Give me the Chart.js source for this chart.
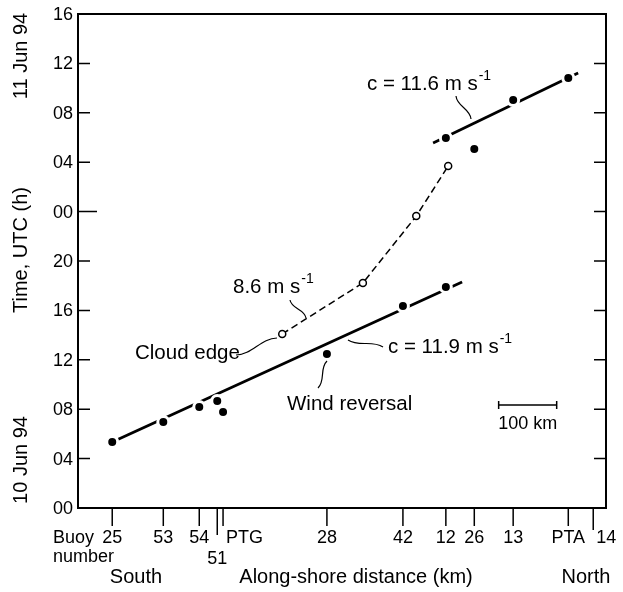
<!DOCTYPE html>
<html>
<head>
<meta charset="utf-8">
<script src="https://cdn.jsdelivr.net/npm/chart.js@4"></script>
<style>
  html, body { margin: 0; background: #fff; }
  canvas { display: block; }
</style>
</head>
<body>
<canvas id="arrival-chart" width="623" height="592"></canvas>
<script>
// buoy stations, south to north (km along shore from the plot's left edge)
const BUOY_NAMES = ["25", "53", "54", "51", "PTG", "28", "42", "12", "26", "13", "PTA", "14"];
const BUOY_KM = [59, 147, 209, 240, 250, 429, 560, 634, 683, 750, 845, 888];

// arrival times, hours after 00 UTC 10 Jun 94
const WIND_KM = [59, 147, 209, 240, 250, 429, 560, 634, 634, 683, 750, 845];
const WIND_H = [5.34, 6.96, 8.18, 8.66, 7.77, 12.47, 16.36, 17.89, 29.96, 29.07, 33.04, 34.82];
const CLOUD_KM = [352, 491, 583, 638];
const CLOUD_H = [14.09, 18.22, 23.64, 27.69];

// fitted propagation lines (end points)
const FIT_SOUTH_KM = [59, 662];
const FIT_SOUTH_H = [5.34, 18.3];
const FIT_NORTH_KM = [612, 862];
const FIT_NORTH_H = [29.55, 35.22];

const TIME_TICKS = [0, 4, 8, 12, 16, 20, 24, 28, 32, 36, 40];
const KM_MAX = 910;
const H_MAX = 40;

const FONT = '"Liberation Sans", Arial, Helvetica, sans-serif';

const pts = (xs, ys) => xs.map((x, i) => ({ x, y: ys[i] }));
const hourLabel = (h) => String(h % 24).padStart(2, "0");

// S-shaped leader line between a label and its mark
function squiggle(ctx, x1, y1, x2, y2, amp) {
  const dx = x2 - x1, dy = y2 - y1;
  const len = Math.hypot(dx, dy);
  const nx = -dy / len, ny = dx / len;
  ctx.beginPath();
  ctx.moveTo(x1, y1);
  ctx.bezierCurveTo(
    x1 + dx / 3 + nx * amp, y1 + dy / 3 + ny * amp,
    x1 + (2 * dx) / 3 - nx * amp, y1 + (2 * dy) / 3 - ny * amp,
    x2, y2
  );
  ctx.stroke();
}

function speedLabel(ctx, text, x, y) {
  ctx.font = `20.5px ${FONT}`;
  ctx.textAlign = "left";
  ctx.textBaseline = "middle";
  ctx.fillText(text, x, y);
  const w = ctx.measureText(text).width;
  ctx.font = `14px ${FONT}`;
  ctx.fillText("-1", x + w + 1, y - 8);
}

const framePlugin = {
  id: "frame",
  afterDraw(chart) {
    const { ctx, chartArea: a, scales } = chart;
    const xs = scales.x, ys = scales.y;
    ctx.save();
    ctx.strokeStyle = "#000";
    ctx.fillStyle = "#000";
    ctx.lineWidth = 2;
    ctx.strokeRect(a.left, a.top, a.right - a.left, a.bottom - a.top);

    // time ticks, inside both vertical axes
    ctx.lineWidth = 1.5;
    ctx.font = `18px ${FONT}`;
    ctx.textAlign = "right";
    ctx.textBaseline = "middle";
    TIME_TICKS.forEach((h) => {
      const y = ys.getPixelForValue(h);
      const inner = h % 24 === 0 ? 19 : 12;
      ctx.beginPath();
      ctx.moveTo(a.left, y);
      ctx.lineTo(a.left + inner, y);
      ctx.moveTo(a.right, y);
      ctx.lineTo(a.right - 12, y);
      ctx.stroke();
      ctx.fillText(hourLabel(h), a.left - 5, y + 1);
    });

    // buoy ticks below the distance axis
    ctx.textAlign = "center";
    BUOY_NAMES.forEach((name, i) => {
      const x = xs.getPixelForValue(BUOY_KM[i]);
      const len = name === "51" ? 27 : name === "14" ? 22 : 18;
      ctx.beginPath();
      ctx.moveTo(x, a.bottom);
      ctx.lineTo(x, a.bottom + len);
      ctx.stroke();
      if (name === "51") {
        ctx.fillText(name, x, a.bottom + 51);
      } else if (name === "PTG" || name === "14") {
        ctx.textAlign = "left";
        ctx.fillText(name, x + 3, a.bottom + 30);
        ctx.textAlign = "center";
      } else {
        ctx.fillText(name, x, a.bottom + 30);
      }
    });
    ctx.textAlign = "left";
    ctx.fillText("Buoy", 53, a.bottom + 30);
    ctx.fillText("number", 53, a.bottom + 49);

    ctx.font = `20px ${FONT}`;
    ctx.textAlign = "center";
    ctx.fillText("South", 136, 577);
    ctx.fillText("Along-shore distance (km)", 356, 577);
    ctx.fillText("North", 586, 577);

    // rotated time labels
    [["11 Jun 94", 56], ["Time, UTC (h)", 250], ["10 Jun 94", 460]].forEach(([t, y]) => {
      ctx.save();
      ctx.translate(21, y);
      ctx.rotate(-Math.PI / 2);
      ctx.fillText(t, 0, 0);
      ctx.restore();
    });

    // annotations
    speedLabel(ctx, "c = 11.6 m s", 367, 84);
    speedLabel(ctx, "8.6 m s", 233, 287);
    speedLabel(ctx, "c = 11.9 m s", 388, 347);
    ctx.font = `20.5px ${FONT}`;
    ctx.textAlign = "left";
    ctx.fillText("Cloud edge", 135, 353);
    ctx.fillText("Wind reversal", 287, 404);

    ctx.lineWidth = 1.2;
    squiggle(ctx, 456, 96, 471, 119, 5);
    squiggle(ctx, 290, 300, 306, 318, 5);
    squiggle(ctx, 236, 355, 277, 338, 6);
    squiggle(ctx, 348, 340, 383, 347, 5);
    squiggle(ctx, 327, 361, 318, 388, 5);

    // 100 km scale bar
    const x0 = xs.getPixelForValue(725);
    const x1 = xs.getPixelForValue(825);
    ctx.lineWidth = 1.5;
    ctx.beginPath();
    ctx.moveTo(x0, 405); ctx.lineTo(x1, 405);
    ctx.moveTo(x0, 401); ctx.lineTo(x0, 409);
    ctx.moveTo(x1, 401); ctx.lineTo(x1, 409);
    ctx.stroke();
    ctx.font = `18px ${FONT}`;
    ctx.textAlign = "center";
    ctx.fillText("100 km", (x0 + x1) / 2, 424);
    ctx.restore();
  },
};

new Chart(document.getElementById("arrival-chart"), {
  type: "scatter",
  data: {
    datasets: [
      {
        // wind reversal arrivals, white ring breaks the fit line
        data: pts(WIND_KM, WIND_H),
        pointRadius: 5.5,
        pointBackgroundColor: "#000",
        pointBorderColor: "#fff",
        pointBorderWidth: 3,
        showLine: false,
      },
      {
        // cloud edge arrivals
        data: pts(CLOUD_KM, CLOUD_H),
        showLine: true,
        borderColor: "#000",
        borderWidth: 1.5,
        borderDash: [7, 4],
        pointRadius: 3.5,
        pointBackgroundColor: "#fff",
        pointBorderColor: "#000",
        pointBorderWidth: 1.5,
      },
      {
        data: pts(FIT_SOUTH_KM, FIT_SOUTH_H),
        showLine: true,
        borderColor: "#000",
        borderWidth: 2.8,
        pointRadius: 0,
      },
      {
        data: pts(FIT_NORTH_KM, FIT_NORTH_H),
        showLine: true,
        borderColor: "#000",
        borderWidth: 2.8,
        pointRadius: 0,
      },
    ],
  },
  options: {
    responsive: false,
    devicePixelRatio: 1,
    animation: false,
    events: [],
    layout: { padding: { left: 78, right: 17, top: 14, bottom: 84 } },
    plugins: { legend: { display: false }, tooltip: { enabled: false } },
    scales: {
      x: { type: "linear", min: 0, max: KM_MAX, display: false },
      y: { type: "linear", min: 0, max: H_MAX, display: false },
    },
  },
  plugins: [framePlugin],
});
</script>
</body>
</html>
